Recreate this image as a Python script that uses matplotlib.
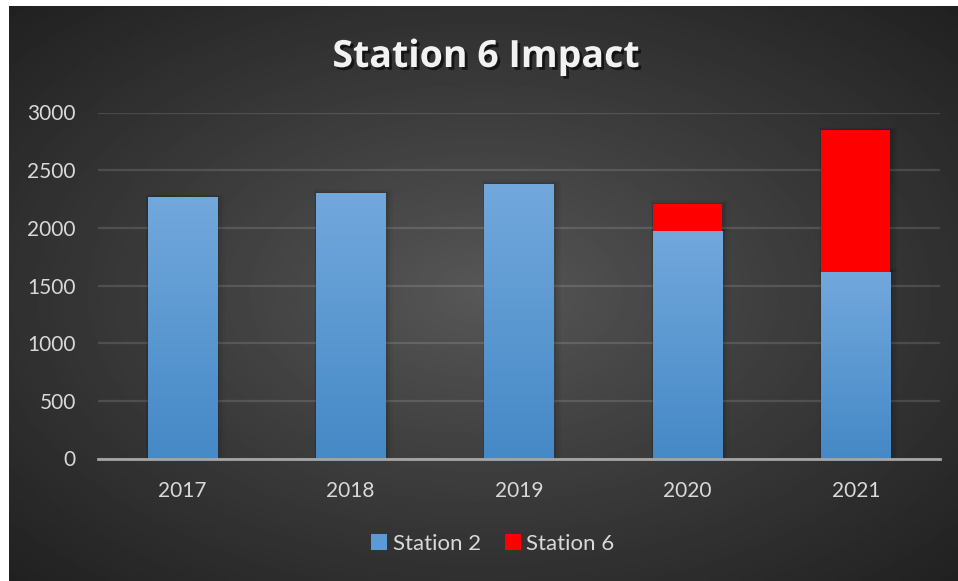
import numpy as np
import matplotlib
matplotlib.use('Agg')
import matplotlib.pyplot as plt
import matplotlib.patheffects as pe
from matplotlib.colors import LinearSegmentedColormap

# data
years = ['2017', '2018', '2019', '2020', '2021']
station2 = [2265, 2300, 2380, 1970, 1620]
station6 = [0, 0, 0, 235, 1225]

plt.rcParams['font.family'] = ['Lato', 'DejaVu Sans']

W, H = 958, 581
fig = plt.figure(figsize=(W / 100, H / 100), dpi=100)
fig.patch.set_facecolor('white')

# dark radial background
bg = fig.add_axes([9 / W, 0, (W - 9) / W, (H - 6) / H], zorder=-10)
yy, xx = np.mgrid[0:1:300j, 0:1:500j]
r = np.sqrt(((xx - 0.5) / 0.5) ** 2 + ((yy - 0.5) / 0.5) ** 2) / np.sqrt(2)
val = (88 - 55 * np.clip(r, 0, 1) ** 0.9) / 255
bg.imshow(val, cmap='gray', vmin=0, vmax=1, aspect='auto', extent=[0, 1, 0, 1])
bg.axis('off')

ax = fig.add_axes([98 / W, 1 - 458.5 / H, (940 - 98) / W, (458.5 - 112.5) / H])
ax.set_facecolor('none')

x = np.arange(len(years))
bw = 0.41
b2 = ax.bar(x, station2, width=bw, color='#5b9bd5', zorder=3)
b6 = ax.bar(x, station6, width=bw, bottom=station2, color='#ff0000', zorder=3)

# vertical gradient on the blue bars
blue = LinearSegmentedColormap.from_list('blue', ['#4589c6', '#72a8dc'])
grad = np.linspace(0, 1, 100).reshape(-1, 1)
for p in b2.patches:
    x0, y0 = p.get_x(), p.get_y()
    ax.imshow(grad, cmap=blue, origin='lower', aspect='auto',
              extent=[x0, x0 + p.get_width(), y0, y0 + p.get_height()], zorder=3.5)

# soft shadows
for p in list(b2.patches) + list(b6.patches):
    if p.get_height() <= 0:
        continue
    for k, a in enumerate([0.09, 0.06, 0.03]):
        d = 0.012 * (k + 1)
        ax.add_patch(plt.Rectangle((p.get_x() - d * 0.3, p.get_y()),
                                   p.get_width() + d * 1.6, p.get_height() + d * 900,
                                   color='black', alpha=a, lw=0, zorder=2))

ax.set_xlim(-0.5, len(years) - 0.5)
ax.set_ylim(0, 3000)
ax.set_yticks(range(0, 3001, 500))
ax.set_xticks(x)
ax.set_xticklabels(years)

ax.grid(axis='y', color='white', alpha=0.13, lw=1.6, zorder=1)
for s in ['top', 'right', 'left']:
    ax.spines[s].set_visible(False)
ax.spines['bottom'].set_color('#a6a6a6')
ax.spines['bottom'].set_linewidth(2)
ax.spines['bottom'].set_zorder(5)
ax.tick_params(axis='both', length=0, labelsize=15, labelcolor='#d9d9d9')
ax.tick_params(axis='y', pad=16)
ax.tick_params(axis='x', pad=16)

fig.text(486 / W, 1 - 67 / H, 'Station 6 Impact', ha='center', va='baseline',
         fontsize=27, fontweight='bold', color='#f2f2f2', family=['Open Sans', 'DejaVu Sans'],
         path_effects=[pe.withSimplePatchShadow(offset=(2, -2), shadow_rgbFace='black', alpha=0.6)])

leg = fig.legend([b2, b6], ['Station 2', 'Station 6'], loc='center',
                 bbox_to_anchor=(493 / W, 1 - 544 / H), ncol=2, frameon=False,
                 fontsize=16, handlelength=0.7, handleheight=0.7,
                 handletextpad=0.25, columnspacing=1.1)
for t in leg.get_texts():
    t.set_color('#d9d9d9')

fig.savefig('out.png', dpi=100)
